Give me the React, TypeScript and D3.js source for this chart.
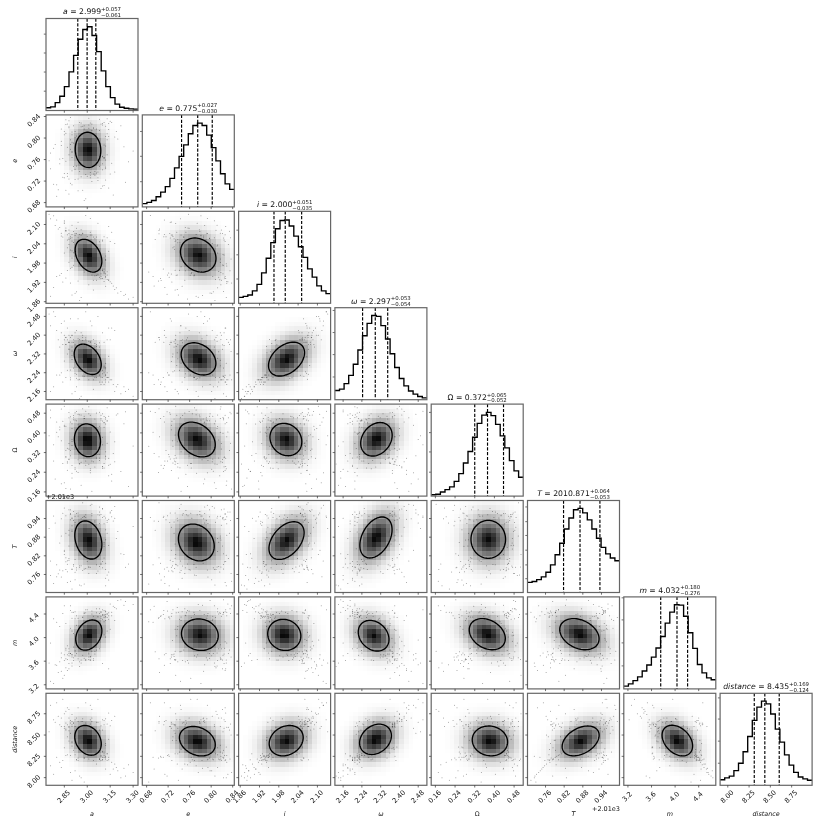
import React from "react";
import * as d3 from "d3";

// ---------- parameters ----------
const names = ["a", "e", "i", "ω", "Ω", "T", "m", "distance"];
const medians = ["2.999", "0.775", "2.000", "2.297", "0.372", "2010.871", "4.032", "8.435"];
const upperErr = ["0.057", "0.027", "0.051", "0.053", "0.065", "0.064", "0.180", "0.169"];
const lowerErr = ["0.061", "0.030", "0.035", "0.054", "0.052", "0.053", "0.276", "0.124"];

// axis ranges (T is relative to its +2.01e3 offset)
const ranges = [
  [2.73, 3.332], [0.672, 0.843], [1.855, 2.141], [2.125, 2.517],
  [0.143, 0.517], [0.702, 0.998], [3.13, 4.69], [7.91, 8.99],
];
const ticks = [
  [2.85, 3.0, 3.15, 3.3],
  [0.68, 0.72, 0.76, 0.8, 0.84],
  [1.86, 1.92, 1.98, 2.04, 2.1],
  [2.16, 2.24, 2.32, 2.4, 2.48],
  [0.16, 0.24, 0.32, 0.4, 0.48],
  [0.76, 0.82, 0.88, 0.94],
  [3.2, 3.6, 4.0, 4.4],
  [8.0, 8.25, 8.5, 8.75],
];
const tickLabels = [
  ["2.85", "3.00", "3.15", "3.30"],
  ["0.68", "0.72", "0.76", "0.80", "0.84"],
  ["1.86", "1.92", "1.98", "2.04", "2.10"],
  ["2.16", "2.24", "2.32", "2.40", "2.48"],
  ["0.16", "0.24", "0.32", "0.40", "0.48"],
  ["0.76", "0.82", "0.88", "0.94"],
  ["3.2", "3.6", "4.0", "4.4"],
  ["8.00", "8.25", "8.50", "8.75"],
];
// 16 / 50 / 84 percentile markers
const quantiles = [
  [2.938, 2.999, 3.056], [0.745, 0.775, 0.802], [1.965, 2.0, 2.051], [2.243, 2.297, 2.35],
  [0.32, 0.372, 0.437], [0.818, 0.871, 0.935], [3.756, 4.032, 4.212], [8.311, 8.435, 8.604],
];

// ---------- histograms (relative height of the 20 bins) ----------
const histA = [.03,.04,.085,.155,.26,.42,.6,.775,.88,.91,.815,.64,.43,.26,.14,.07,.035,.025,.018,.015];
const histE = [.035,.05,.07,.11,.16,.22,.31,.425,.55,.675,.795,.885,.91,.885,.78,.645,.5,.36,.25,.19];
const histI = [.065,.075,.09,.135,.205,.33,.49,.66,.81,.9,.905,.84,.73,.615,.5,.375,.285,.19,.135,.105];
const histW = [.1,.115,.175,.265,.385,.54,.695,.83,.915,.905,.805,.66,.5,.35,.23,.15,.095,.06,.035,.02];
const histO = [.015,.02,.045,.07,.1,.16,.245,.36,.485,.64,.79,.88,.91,.875,.78,.655,.525,.385,.275,.205];
const histT = [.11,.12,.14,.17,.22,.3,.41,.535,.69,.81,.9,.915,.865,.79,.69,.59,.49,.42,.375,.345];
const histM = [.03,.055,.09,.13,.195,.26,.345,.445,.57,.715,.835,.915,.91,.79,.61,.44,.265,.175,.12,.1];
const histD = [.06,.08,.1,.16,.24,.365,.53,.705,.85,.915,.885,.775,.61,.47,.33,.22,.14,.09,.07,.055];
const hists = [histA, histE, histI, histW, histO, histT, histM, histD];
const histTicks = [
  [.21,.418,.625,.83], [.274,.55,.82], [.264,.527,.795], [.247,.49,.73,.97],
  [.26,.48,.69,.91], [.15,.3,.46,.62,.77,.93], [.25,.5,.75,.99], [.24,.48,.72,.95],
];

// ---------- outer contour of each 2D panel ----------
// each: [centre x, half extent x, centre y, half extent y, tilt]
const contoursE = [[3.005,.0837,.778,.0327,-.04]];
const contoursI = [[3.008,.0873,2.003,.0509,-.35],[.776,.033,2.005,.0529,-.2]];
const contoursW = [[3.003,.0885,2.297,.0647,-.35],[.7765,.0323,2.299,.0686,-.28],[2.004,.056,2.298,.0721,.38]];
const contoursO = [[3.001,.0855,.37,.0666,-.07],[.7734,.0342,.373,.0707,-.3],[2.002,.0495,.373,.0658,-.14],[2.302,.067,.374,.0681,.24]];
const contoursT = [[3.007,.0885,.871,.0613,-.24],[.7724,.0333,.863,.0592,-.2],[2.004,.0546,.869,.0607,.42],[2.3,.0686,.879,.066,.38],[.375,.0703,.873,.061,0]];
const contoursM = [[3.01,.0855,4.043,.256,.28],[.779,.0342,4.049,.267,-.07],[1.997,.0515,4.046,.264,-.07],[2.29,.0655,4.032,.26,-.24],[.371,.0733,4.058,.264,-.28],[.869,.0633,4.058,.264,-.3]];
const contoursD = [[3.005,.0867,8.438,.175,-.24],[.7743,.0333,8.428,.173,-.24],[2.003,.0529,8.434,.178,.2],[2.298,.0678,8.45,.178,.24],[.3816,.0718,8.431,.175,-.07],[.873,.0595,8.431,.175,.38],[4.038,.259,8.435,.18,-.35]];
const contourRows = [[], contoursE, contoursI, contoursW, contoursO, contoursT, contoursM, contoursD];

// ---------- outlying samples, one value per sample per parameter ----------
const sampA = [2.76,2.79,2.81,2.83,2.84,2.85,2.86,2.78,2.88,2.87,2.82,2.89,2.85,2.90,2.80,2.86,2.83,2.91,2.88,2.75,
3.12,3.25,3.16,3.11,3.30,3.14,3.19,3.10,3.22,3.13,3.17,3.09,3.27,3.15,3.12,3.20,3.11,3.18,3.14,3.24,
2.88,3.11,3.02,2.93,3.14,2.97,3.07,2.85,3.05,3.18,2.91,2.99,3.10,2.86,3.03,3.13,2.94,3.08,2.90,3.16,
2.84,2.92,2.80,2.96,3.06,2.87,2.78,3.01,2.90,2.83,3.09,2.95,2.82,3.04,2.89,2.76,2.98,2.93,3.12,2.86,
2.87,3.12,2.90,3.09,2.88,3.13,2.92,3.08,2.86,3.11,3.00,3.02,2.98,3.05,2.95,3.14,2.89,3.10,2.93,3.07,2.85,3.15,2.91,3.06,2.94,3.01,2.97,3.03,2.88,3.12,2.90,3.10,2.96,3.04,2.87,3.13,2.99,3.02,2.92,3.08,
2.91,3.09,3.02,2.98,2.90,3.11,3.04,2.96,2.89,3.10,3.01,2.93,3.07,2.99,3.12,2.92,3.05,2.95,3.08,2.88,3.03,2.97,3.11,2.91,3.00,3.06,2.94,3.10,2.90,3.02,2.96,3.09,3.04,2.89,3.01,3.07,2.93,2.98,3.12,2.95,3.05,2.92,3.03,3.08,2.99,2.90,3.10,2.97,3.06,2.94];
const sampE = [.743,.788,.704,.817,.762,.726,.809,.781,.696,.826,.752,.797,.734,.773,.713,.834,.786,.747,.821,.758,
.803,.718,.829,.764,.776,.707,.812,.741,.823,.769,.694,.791,.756,.831,.722,.798,.763,.737,.816,.784,
.819,.712,.793,.748,.827,.703,.774,.806,.731,.802,.779,.687,.824,.757,.744,.836,.724,.788,.811,.753,
.727,.801,.692,.828,.751,.783,.714,.818,.739,.794,.706,.807,.761,.733,.838,.772,.684,.804,.746,.825,
.734,.822,.713,.826,.724,.808,.742,.835,.703,.829,.783,.726,.817,.768,.738,.803,.716,.827,.759,.721,.812,.733,.823,.749,.702,.837,.792,.719,.832,.744,.806,.711,.778,.819,.729,.797,.754,.828,.723,.814,
.782,.771,.731,.823,.764,.787,.818,.728,.779,.766,.824,.793,.737,.756,.785,.812,.733,.772,.794,.769,.826,.744,.763,.791,.729,.817,.783,.752,.775,.736,.821,.768,.749,.788,.811,.726,.774,.797,.759,.829,.738,.781,.814,.747,.732,.792,.765,.822,.735,.786];
const sampI = [2.118,2.097,2.086,2.073,2.061,2.108,2.082,2.127,2.053,2.068,2.091,2.057,2.103,2.049,2.114,2.079,2.064,2.044,2.072,2.132,
1.938,1.883,1.917,1.951,1.874,1.926,1.903,1.958,1.892,1.943,1.909,1.947,1.868,1.922,1.936,1.887,1.954,1.898,1.928,1.879,
2.083,2.062,2.119,2.048,2.094,2.071,2.104,2.112,2.056,2.041,2.078,2.128,2.052,2.089,2.067,2.059,2.107,2.046,2.098,2.076,
1.921,1.886,1.938,1.873,1.927,1.957,1.904,1.913,1.881,1.948,1.932,1.864,1.942,1.896,1.918,1.877,1.952,1.891,1.908,1.934,
2.052,1.947,2.069,1.938,2.058,1.929,2.043,1.956,2.081,1.923,2.004,2.067,1.982,1.941,2.053,2.017,2.062,1.932,2.088,1.949,2.011,2.047,1.973,2.061,1.924,1.993,2.073,1.943,2.038,2.002,2.059,1.962,2.084,1.927,2.028,1.953,2.054,1.978,2.072,1.936,
2.012,1.987,2.031,2.058,1.996,1.962,1.951,2.067,2.021,1.978,2.005,2.072,1.943,2.054,1.991,2.036,1.958,2.069,2.008,1.983,2.047,1.969,1.948,2.026,2.063,1.993,2.052,1.956,2.018,2.076,1.974,2.001,2.061,1.964,2.033,1.946,2.014,2.057,1.989,1.971,2.043,2.066,1.954,1.998,2.023,1.967,2.049,2.007,1.942,2.059];
const sampW = [2.44,2.48,2.38,2.41,2.36,2.46,2.39,2.50,2.37,2.43,2.35,2.47,2.40,2.37,2.42,2.36,2.45,2.38,2.34,2.49,
2.23,2.16,2.21,2.24,2.14,2.20,2.18,2.25,2.15,2.22,2.19,2.24,2.17,2.21,2.23,2.19,2.26,2.16,2.22,2.18,
2.40,2.37,2.46,2.36,2.43,2.39,2.48,2.38,2.35,2.42,2.37,2.50,2.41,2.36,2.44,2.38,2.47,2.35,2.40,2.43,
2.20,2.16,2.23,2.14,2.22,2.25,2.18,2.21,2.15,2.24,2.19,2.13,2.23,2.17,2.21,2.16,2.24,2.18,2.20,2.22,
2.38,2.21,2.40,2.20,2.37,2.22,2.41,2.23,2.39,2.19,2.30,2.37,2.27,2.22,2.36,2.31,2.39,2.20,2.42,2.23,2.29,2.38,2.26,2.36,2.21,2.33,2.40,2.24,2.37,2.28,2.35,2.22,2.41,2.21,2.32,2.24,2.38,2.28,2.36,2.20,
2.311,2.282,2.372,2.225,2.296,2.264,2.381,2.308,2.218,2.277,2.356,2.233,2.325,2.389,2.257,2.302,2.364,2.212,2.286,2.341,2.229,2.377,2.269,2.318,2.244,2.293,2.385,2.236,2.333,2.271,2.359,2.221,2.304,2.252,2.374,2.288,2.216,2.347,2.263,2.381,2.299,2.238,2.329,2.368,2.248,2.314,2.279,2.226,2.352,2.291];
const sampO = [.462,.213,.384,.497,.276,.431,.174,.352,.483,.248,.413,.307,.508,.236,.444,.328,.193,.471,.292,.388,
.294,.486,.204,.423,.347,.268,.473,.382,.243,.502,.316,.452,.182,.404,.303,.478,.257,.364,.226,.437,
.334,.467,.238,.412,.297,.498,.373,.197,.456,.283,.392,.488,.262,.427,.163,.358,.476,.313,.418,.232,
.447,.252,.403,.187,.481,.338,.286,.506,.217,.368,.458,.274,.424,.308,.172,.493,.346,.244,.436,.302,
.283,.463,.267,.472,.294,.448,.258,.484,.303,.442,.372,.247,.458,.398,.276,.468,.328,.263,.487,.312,.426,.272,.453,.348,.239,.478,.388,.286,.462,.323,.437,.256,.473,.357,.278,.449,.337,.254,.482,.298,
.381,.362,.295,.458,.374,.441,.283,.368,.466,.352,.301,.449,.387,.268,.456,.341,.391,.474,.288,.357,.437,.378,.276,.462,.346,.403,.291,.448,.365,.472,.281,.394,.359,.444,.272,.413,.337,.468,.306,.384,.261,.452,.371,.427,.286,.349,.478,.398,.298,.433];
const sampT = [.803,.926,.762,.884,.957,.838,.776,.948,.902,.734,.861,.968,.824,.917,.753,.893,.939,.787,.852,.908,
.872,.783,.946,.813,.914,.742,.876,.972,.827,.758,.932,.847,.794,.961,.724,.898,.863,.941,.768,.824,
.968,.947,.983,.956,.938,.991,.952,.974,.929,.979,.963,.943,.971,.949,.986,.934,.958,.977,.942,.966,
.772,.743,.791,.724,.763,.804,.731,.784,.713,.752,.796,.726,.774,.812,.738,.757,.729,.782,.748,.801,
.793,.942,.778,.953,.806,.928,.767,.961,.814,.923,.874,.783,.947,.897,.788,.853,.936,.802,.912,.771,.834,.958,.792,.884,.931,.763,.857,.949,.811,.904,.776,.943,.842,.918,.769,.893,.952,.822,.927,.786,
.882,.866,.893,.778,.941,.858,.871,.788,.953,.846,.936,.774,.879,.904,.796,.947,.858,.783,.924,.887,.956,.773,.851,.934,.802,.877,.948,.782,.898,.861,.939,.792,.871,.956,.784,.912,.843,.946,.776,.886,.933,.808,.864,.951,.779,.903,.854,.943,.791,.874];
const sampM = [3.26,3.54,3.41,3.66,3.31,3.71,3.49,3.22,3.76,3.44,3.59,3.73,3.36,3.67,3.53,3.79,3.43,3.61,3.47,3.57,
4.36,4.61,4.43,4.27,4.56,4.37,4.49,4.31,4.64,4.39,4.53,4.33,4.46,4.57,4.35,4.63,4.34,4.51,4.42,4.55,
3.81,4.46,3.62,4.21,3.47,4.34,3.96,4.54,3.72,4.29,3.84,4.47,3.56,4.24,3.77,4.41,3.64,4.16,3.52,4.37,
4.41,3.69,4.26,3.57,4.49,3.86,4.32,3.63,4.43,3.74,4.36,3.51,4.19,3.61,4.54,3.91,4.27,3.73,4.44,3.82,
3.63,4.39,3.71,4.44,3.56,4.34,3.76,4.49,3.64,4.37,4.06,3.67,4.41,3.91,3.59,4.31,3.73,4.47,3.86,4.35,3.61,4.14,4.43,3.79,4.33,3.67,4.01,4.45,3.73,4.29,3.57,4.39,3.94,4.36,3.71,4.11,4.42,3.62,4.32,3.81,
4.07,3.98,3.68,4.42,4.11,4.39,3.64,3.95,4.46,4.02,3.72,4.37,4.14,3.61,4.01,4.44,3.77,4.09,4.41,3.69,3.93,4.35,4.05,3.66,4.47,3.88,4.12,4.38,3.71,4.03,3.62,4.43,3.97,4.16,3.74,4.36,4.08,3.65,4.45,3.91,4.19,3.78,4.4,3.99,3.63,4.33,4.04,3.7,4.42,3.86];
const sampD = [8.85,8.65,8.72,8.60,8.92,8.58,8.78,8.68,8.55,8.82,8.62,8.52,8.75,8.60,8.88,8.56,8.70,8.64,8.80,8.54,
8.22,8.02,8.18,8.28,8.06,8.24,8.12,8.30,8.00,8.20,8.10,8.26,8.15,8.04,8.25,8.08,8.30,8.16,8.21,8.11,
8.70,8.62,8.85,8.58,8.76,8.66,8.92,8.60,8.55,8.72,8.64,8.88,8.68,8.57,8.80,8.63,8.82,8.56,8.74,8.67,
8.20,8.08,8.24,8.00,8.16,8.27,8.04,8.22,7.97,8.12,8.25,8.02,8.18,8.28,8.06,8.14,7.95,8.21,8.10,8.26,
8.62,8.24,8.66,8.20,8.60,8.28,8.68,8.22,8.64,8.26,8.40,8.63,8.30,8.25,8.58,8.45,8.67,8.21,8.70,8.27,8.35,8.61,8.32,8.65,8.23,8.50,8.69,8.26,8.59,8.38,8.62,8.24,8.66,8.20,8.48,8.28,8.64,8.36,8.60,8.22,
8.46,8.39,8.62,8.23,8.41,8.67,8.25,8.44,8.64,8.31,8.58,8.21,8.47,8.36,8.69,8.27,8.52,8.6,8.22,8.43,8.66,8.33,8.24,8.49,8.63,8.38,8.2,8.56,8.42,8.68,8.29,8.61,8.45,8.26,8.35,8.65,8.51,8.23,8.4,8.59,8.28,8.48,8.7,8.34,8.62,8.37,8.21,8.54,8.44,8.66];
const samples = [sampA, sampE, sampI, sampW, sampO, sampT, sampM, sampD];

// ---------- layout ----------
const X0 = 46, Y0 = 18.5, STEP_X = 96.3, STEP_Y = 96.4, SIZE = 92, BINS = 20;
const FONT = "'DejaVu Sans', sans-serif";
const SPINE = "#666666";

const measure = (() => {
  const ctx = typeof document !== "undefined" ? document.createElement("canvas").getContext("2d") : null;
  return (t: string, font: string) => {
    if (!ctx) return t.length * 4;
    ctx.font = font;
    return ctx.measureText(t).width;
  };
})();

const isUpright = (k: number) => k === 4;
const xScale = (c: number) => d3.scaleLinear().domain(ranges[c]).range([X0 + c * STEP_X, X0 + c * STEP_X + SIZE]);
const yScale = (r: number) => d3.scaleLinear().domain(ranges[r]).range([Y0 + r * STEP_Y + SIZE, Y0 + r * STEP_Y]);
const gray = d3.scaleLinear<string>().domain([0, 1]).range(["#ffffff", "#0a0a0a"]);

function Frame({ c, r }: { c: number; r: number }) {
  const x = X0 + c * STEP_X, y = Y0 + r * STEP_Y;
  return <rect x={x} y={y} width={SIZE} height={SIZE} fill="none" stroke={SPINE} strokeWidth={1.2} />;
}

function XTicks({ c, r }: { c: number; r: number }) {
  const sx = xScale(c), y = Y0 + r * STEP_Y + SIZE;
  return <g>{ticks[c].map((t, k) => (
    <g key={k}>
      <line x1={sx(t)} x2={sx(t)} y1={y} y2={y + 2.2} stroke="#333" strokeWidth={0.7} />
      {r === 7 && (
        <text transform={`translate(${sx(t) - 0.5},${y + 11.5}) rotate(-45)`} fontSize={6.8} textAnchor="middle"
          dominantBaseline="central" fontFamily={FONT} fill="#111">{tickLabels[c][k]}</text>
      )}
    </g>
  ))}</g>;
}

function YTicks({ v, c, r }: { v: number; c: number; r: number }) {
  const sy = yScale(r), x = X0 + c * STEP_X;
  return <g>{ticks[v].map((t, k) => (
    <g key={k}>
      <line x1={x - 2.2} x2={x} y1={sy(t)} y2={sy(t)} stroke="#333" strokeWidth={0.7} />
      {c === 0 && (
        <text transform={`translate(34,${sy(t) + 4}) rotate(-45)`} fontSize={6.8} textAnchor="middle"
          dominantBaseline="central" fontFamily={FONT} fill="#111">{tickLabels[v][k]}</text>
      )}
    </g>
  ))}</g>;
}

function Title({ k }: { k: number }) {
  const cx = X0 + k * STEP_X + SIZE / 2, top = Y0 + k * STEP_Y;
  const mainSize = 7.7, subSize = 5.4;
  const name = names[k], rest = ` = ${medians[k]}`;
  const italic = isUpright(k) ? "" : "italic ";
  const mw = measure(name, `${italic}${mainSize}px 'DejaVu Sans'`) + measure(rest, `${mainSize}px 'DejaVu Sans'`);
  const sup = `+${upperErr[k]}`, sub = `−${lowerErr[k]}`;
  const sw = Math.max(measure(sup, `${subSize}px 'DejaVu Sans'`), measure(sub, `${subSize}px 'DejaVu Sans'`));
  const x = cx - (mw + sw) / 2;
  return (
    <g fontFamily={FONT} fill="#111">
      <text x={x} y={top - 4.2} fontSize={mainSize}>
        <tspan fontStyle={italic ? "italic" : "normal"}>{name}</tspan>{rest}
      </text>
      <text x={x + mw} y={top - 7.5} fontSize={subSize}>{sup}</text>
      <text x={x + mw} y={top - 1.8} fontSize={subSize}>{sub}</text>
    </g>
  );
}

function HistPanel({ k }: { k: number }) {
  const sx = xScale(k);
  const top = Y0 + k * STEP_Y;
  const sh = d3.scaleLinear().domain([0, 1]).range([top + SIZE, top]);
  const [lo, hi] = ranges[k];
  const edges = d3.range(BINS + 1).map((b) => lo + (b * (hi - lo)) / BINS);
  const pts: [number, number][] = edges.map((e, b) => [sx(e), sh(hists[k][Math.min(b, BINS - 1)])]);
  const path = d3.line().curve(d3.curveStepAfter)(pts) || "";
  return (
    <g>
      <path d={path} fill="none" stroke="#000" strokeWidth={1.35} />
      {quantiles[k].map((q, n) => (
        <line key={n} x1={sx(q)} x2={sx(q)} y1={top} y2={top + SIZE} stroke="#000" strokeWidth={1.15} strokeDasharray="3.2 1.6" />
      ))}
      {histTicks[k].map((t, n) => (
        <line key={n} x1={sx.range()[0] - 2.2} x2={sx.range()[0]} y1={sh(t)} y2={sh(t)} stroke="#333" strokeWidth={0.7} />
      ))}
      <Frame c={k} r={k} />
      <XTicks c={k} r={k} />
      <Title k={k} />
    </g>
  );
}

function DensityPanel({ c, r }: { c: number; r: number }) {
  const sx = xScale(c), sy = yScale(r);
  const [cx, hx, cy, hy, rho] = contourRows[r][c];
  const qAt = (x: number, y: number) => {
    const u = (x - cx) / hx, v = (y - cy) / hy;
    return (u * u - 2 * rho * u * v + v * v) / (1 - rho * rho);
  };
  const [xLo, xHi] = ranges[c], [yLo, yHi] = ranges[r];
  const bw = (xHi - xLo) / BINS, bh = (yHi - yLo) / BINS;
  const cells: { x: number; y: number; d: number }[] = [];
  d3.range(BINS).forEach((i) => d3.range(BINS).forEach((j) => {
    const q2 = qAt(xLo + (i + 0.5) * bw, yLo + (j + 0.5) * bh);
    const d = q2 <= 1 ? Math.exp(-0.9 * Math.pow(q2, 0.75)) : 0.41 * Math.exp(-0.8 * (q2 - 1));
    if (d > 0.004) cells.push({ x: xLo + i * bw, y: yLo + j * bh, d });
  }));
  const peak = d3.max(cells, (e) => e.d) || 1;
  const dots = samples[c].map((v, n) => [v, samples[r][n]])
    .filter(([x, y]) => x >= xLo && x <= xHi && y >= yLo && y <= yHi && qAt(x, y) > 1.3);
  const ring = d3.range(0, 2 * Math.PI, Math.PI / 40).map((t): [number, number] => [
    sx(cx + hx * Math.cos(t)),
    sy(cy + hy * (rho * Math.cos(t) + Math.sqrt(1 - rho * rho) * Math.sin(t))),
  ]);
  const contour = d3.line().curve(d3.curveLinearClosed)(ring) || "";
  return (
    <g>
      <g shapeRendering="crispEdges">
        {cells.map((e, n) => (
          <rect key={n} x={sx(e.x)} y={sy(e.y + bh)} width={sx(e.x + bw) - sx(e.x)} height={sy(e.y) - sy(e.y + bh)} fill={gray(e.d / peak)} />
        ))}
      </g>
      {dots.map(([x, y], n) => (
        <circle key={n} cx={sx(x)} cy={sy(y)} r={0.5} fill="#000" opacity={0.42} />
      ))}
      <path d={contour} fill="none" stroke="#000" strokeWidth={1.35} />
      <Frame c={c} r={r} />
      <XTicks c={c} r={r} />
      <YTicks v={r} c={c} r={r} />
    </g>
  );
}

export default function App() {
  return (
    <svg width={831} height={831} style={{ position: "absolute", left: 0, top: 0, background: "#fff", filter: "blur(0.4px)" }}>
      {names.map((_, r) => (
        <g key={r}>
          {d3.range(r).map((c) => <DensityPanel key={c} c={c} r={r} />)}
          <HistPanel k={r} />
        </g>
      ))}
      {names.map((n, k) => (
        <text key={k} x={X0 + k * STEP_X + SIZE / 2} y={816} fontSize={6.4} fontStyle={isUpright(k) ? "normal" : "italic"} textAnchor="middle" fontFamily={FONT} fill="#111">{n}</text>
      ))}
      {names.map((n, k) => k > 0 && (
        <text key={k} transform={`translate(15,${Y0 + k * STEP_Y + SIZE / 2}) rotate(-90)`} fontSize={6.4} fontStyle={isUpright(k) ? "normal" : "italic"} textAnchor="middle" dominantBaseline="central" fontFamily={FONT} fill="#111">{n}</text>
      ))}
      <text x={46} y={499} fontSize={6.5} fontFamily={FONT} fill="#111">+2.01e3</text>
      <text x={620} y={811} fontSize={6.5} textAnchor="end" fontFamily={FONT} fill="#111">+2.01e3</text>
    </svg>
  );
}
